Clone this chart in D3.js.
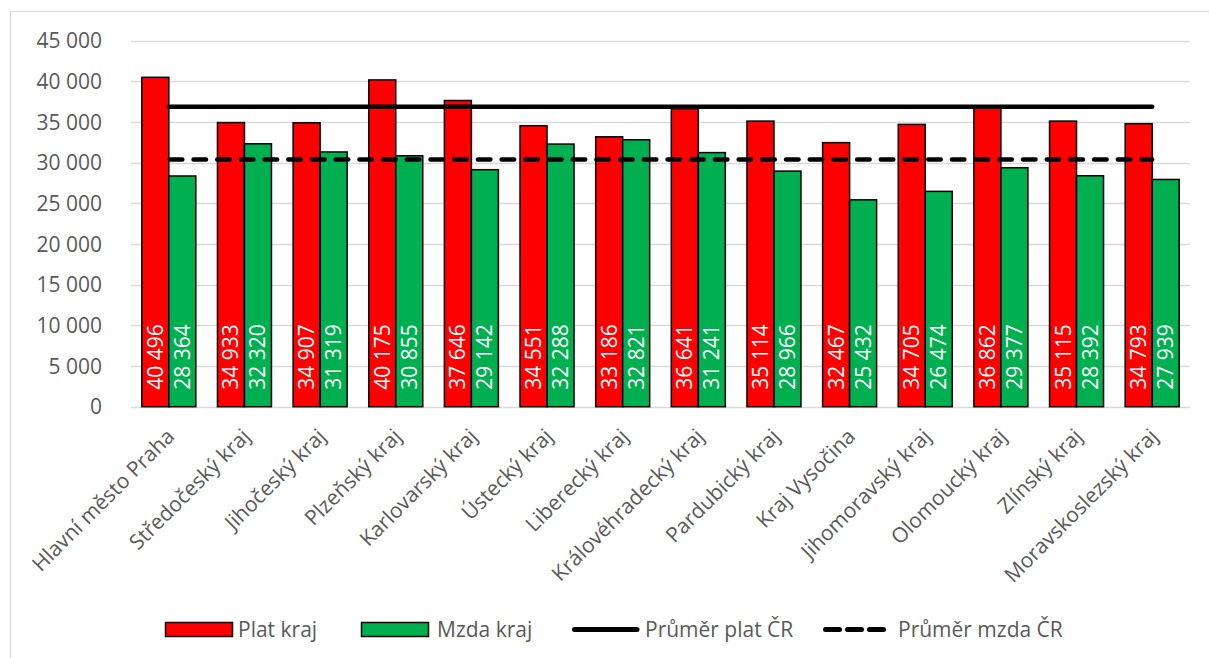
<!DOCTYPE html>
<html><head><meta charset="utf-8">
<script src="https://cdn.jsdelivr.net/npm/d3@7"></script>
<style>body{margin:0;background:#fff;} svg{display:block;}</style>
</head><body>
<svg id="c" width="1209" height="658"></svg>
<script>
const categories = ["Hlavní město Praha","Středočeský kraj","Jihočeský kraj","Plzeňský kraj","Karlovarský kraj","Ústecký kraj","Liberecký kraj","Královéhradecký kraj","Pardubický kraj","Kraj Vysočina","Jihomoravský kraj","Olomoucký kraj","Zlínský kraj","Moravskoslezský kraj"];
const platKraj = [40496,34933,34907,40175,37646,34551,33186,36641,35114,32467,34705,36862,35115,34793];
const mzdaKraj = [28364,32320,31319,30855,29142,32288,32821,31241,28966,25432,26474,29377,28392,27939];
const prumerPlat = 36880;
const prumerMzda = 30400;
const yTicks = [0,5000,10000,15000,20000,25000,30000,35000,40000,45000];
const seriesNames = ["Plat kraj","Mzda kraj","Průměr plat ČR","Průměr mzda ČR"];

(function(){
const svg = d3.select("#c");
const font = "'Open Sans', sans-serif";
const fmt = v => d3.format(",")(v).replace(/,/g, " ");

svg.append("rect").attr("x",10.5).attr("y",11.5).attr("width",1210).attr("height",660)
  .attr("fill","#fff").attr("stroke","#d9d9d9").attr("stroke-width",1);

const pL = 131, pR = 1190, pT = 40.7, pB = 406.7;
const x = d3.scaleBand().domain(categories).range([pL,pR]);
const y = d3.scaleLinear().domain([0,45000]).range([pB,pT]);
const bw = 27;

svg.append("g").selectAll("line").data(yTicks).join("line")
  .attr("x1",pL).attr("x2",pR).attr("y1",d=>Math.round(y(d))+0.5).attr("y2",d=>Math.round(y(d))+0.5)
  .attr("stroke","#d9d9d9").attr("stroke-width",1.5);

svg.append("g").selectAll("text").data(yTicks).join("text")
  .attr("x",102).attr("y",d=>y(d)).attr("dy","0.36em").attr("text-anchor","end")
  .attr("font-family",font).attr("font-size",21).attr("fill","#595959").text(d=>fmt(d));

const g = svg.append("g");
categories.forEach((c,i)=>{
  const cx = x(c)+x.bandwidth()/2;
  [[platKraj[i],"#ff0000",cx-bw],[mzdaKraj[i],"#00b050",cx]].forEach(([v,col,x0])=>{
    g.append("rect").attr("x",x0).attr("y",y(v)).attr("width",bw).attr("height",pB-y(v))
      .attr("fill",col).attr("stroke","#000").attr("stroke-width",1.5);
    const tx = x0+bw/2;
    g.append("text").attr("transform",`translate(${tx+7.5},${pB-17}) rotate(-90)`)
      .attr("font-family",font).attr("font-size",21).attr("fill","#fff").text(fmt(v));
  });
});

const x1 = x(categories[0])+x.bandwidth()/2, x2 = x(categories[categories.length-1])+x.bandwidth()/2;
svg.append("line").attr("x1",x1).attr("x2",x2).attr("y1",y(prumerPlat)).attr("y2",y(prumerPlat))
  .attr("stroke","#000").attr("stroke-width",4.5).attr("stroke-linecap","round");
svg.append("line").attr("x1",x1+1).attr("x2",x2).attr("y1",y(prumerMzda)).attr("y2",y(prumerMzda))
  .attr("stroke","#000").attr("stroke-width",4.5).attr("stroke-linecap","round").attr("stroke-dasharray","12.5 11.2");

svg.append("g").selectAll("text").data(categories).join("text")
  .attr("transform",d=>`translate(${x(d)+x.bandwidth()/2+7},${pB+31}) rotate(-45)`)
  .attr("text-anchor","end").attr("font-family",font).attr("font-size",21).attr("fill","#595959").text(d=>d);

const ly = 629.5;
const lg = svg.append("g").attr("font-family",font).attr("font-size",21).attr("fill","#595959");
lg.append("rect").attr("x",165.5).attr("y",622.5).attr("width",67).attr("height",14).attr("fill","#ff0000").attr("stroke","#000").attr("stroke-width",1.5);
lg.append("text").attr("x",238).attr("y",637).text(seriesNames[0]);
lg.append("rect").attr("x",361.5).attr("y",622.5).attr("width",67).attr("height",14).attr("fill","#00b050").attr("stroke","#000").attr("stroke-width",1.5);
lg.append("text").attr("x",437).attr("y",637).text(seriesNames[1]);
lg.append("line").attr("x1",574.5).attr("x2",637).attr("y1",ly).attr("y2",ly).attr("stroke","#000").attr("stroke-width",5).attr("stroke-linecap","round");
lg.append("text").attr("x",645).attr("y",637).text(seriesNames[2]);
lg.append("line").attr("x1",825.5).attr("x2",883.5).attr("y1",ly).attr("y2",ly).attr("stroke","#000").attr("stroke-width",5).attr("stroke-linecap","round").attr("stroke-dasharray","14 8");
lg.append("text").attr("x",898).attr("y",637).text(seriesNames[3]);
})();
</script>
</body></html>
